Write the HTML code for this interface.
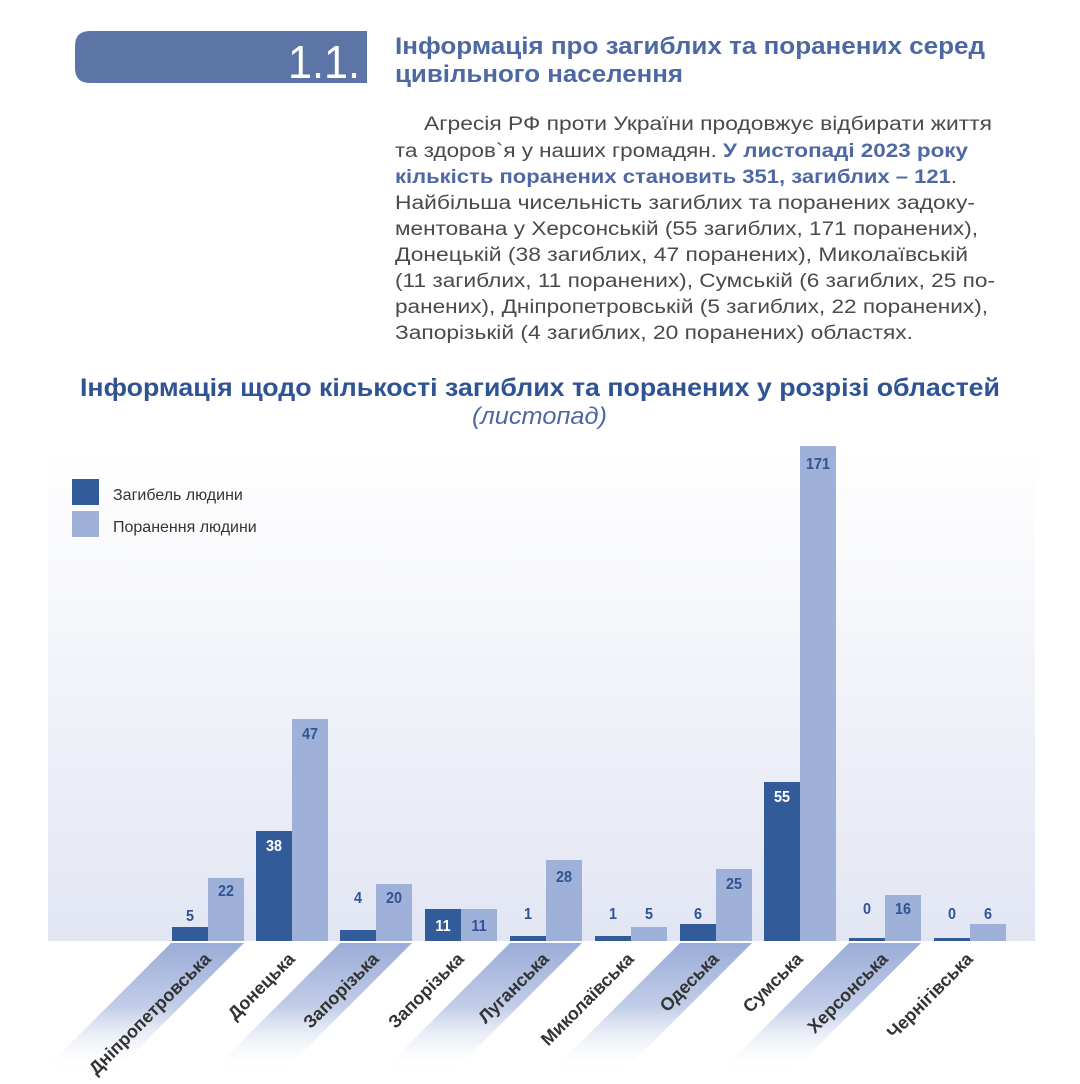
<!DOCTYPE html>
<html><head><meta charset="utf-8"><style>
html,body{margin:0;padding:0;background:#fff;}
svg{display:block;}
text{font-family:"Liberation Sans","DejaVu Sans",sans-serif;}
</style></head><body>
<svg width="1080" height="1084" viewBox="0 0 1080 1084" xmlns="http://www.w3.org/2000/svg">
<defs>
<linearGradient id="bg" x1="0" y1="0" x2="0" y2="1">
<stop offset="0" stop-color="#ffffff"/>
<stop offset="1" stop-color="#e2e6f3"/>
</linearGradient>
<linearGradient id="st" x1="0" y1="0" x2="0" y2="1">
<stop offset="0" stop-color="#9aacd7"/>
<stop offset="0.5" stop-color="#c3cee8"/>
<stop offset="1" stop-color="#ffffff" stop-opacity="0"/>
</linearGradient>
</defs>
<path d="M90 31 H367 V83 H90 Q75 83 75 68 V46 Q75 31 90 31 Z" fill="#5d74a6"/>
<text x="360" y="78" text-anchor="end" font-size="46" fill="#fff" textLength="72" lengthAdjust="spacingAndGlyphs">1.1.</text>
<text x="395" y="54" font-size="24" font-weight="bold" fill="#4e68a3" textLength="590" lengthAdjust="spacingAndGlyphs">Інформація про загиблих та поранених серед</text>
<text x="395" y="82" font-size="24" font-weight="bold" fill="#4e68a3" textLength="288" lengthAdjust="spacingAndGlyphs">цивільного населення</text>
<g font-size="19" fill="#4a4a4a">
<text x="424" y="130" textLength="568" lengthAdjust="spacingAndGlyphs">Агресія РФ проти України продовжує відбирати життя</text>
<text x="395" y="157" textLength="573" lengthAdjust="spacingAndGlyphs">та здоров`я у наших громадян. <tspan font-weight="bold" fill="#4e68a3">У листопаді 2023 року</tspan></text>
<text x="395" y="183" textLength="562" lengthAdjust="spacingAndGlyphs"><tspan font-weight="bold" fill="#4e68a3">кількість поранених становить 351, загиблих – 121</tspan>.</text>
<text x="395" y="209" textLength="580" lengthAdjust="spacingAndGlyphs">Найбільша чисельність загиблих та поранених задоку-</text>
<text x="395" y="235" textLength="583" lengthAdjust="spacingAndGlyphs">ментована у Херсонській (55 загиблих, 171 поранених),</text>
<text x="395" y="261" textLength="573" lengthAdjust="spacingAndGlyphs">Донецькій (38 загиблих, 47 поранених), Миколаївській</text>
<text x="395" y="287" textLength="600" lengthAdjust="spacingAndGlyphs">(11 загиблих, 11 поранених), Сумській (6 загиблих, 25 по-</text>
<text x="395" y="313" textLength="593" lengthAdjust="spacingAndGlyphs">ранених), Дніпропетровській (5 загиблих, 22 поранених),</text>
<text x="395" y="339" textLength="518" lengthAdjust="spacingAndGlyphs">Запорізькій (4 загиблих, 20 поранених) областях.</text>
</g>
<text x="80" y="396" font-size="25" font-weight="bold" fill="#2f5393" textLength="920" lengthAdjust="spacingAndGlyphs">Інформація щодо кількості загиблих та поранених у розрізі областей</text>
<text x="472" y="424" font-size="24" font-style="italic" fill="#4e68a3" textLength="135" lengthAdjust="spacingAndGlyphs">(листопад)</text>
<rect x="48" y="450" width="987" height="491" fill="url(#bg)"/>
<rect x="72" y="479" width="27" height="26" fill="#325c99"/>
<rect x="72" y="511" width="27" height="26" fill="#a0b1d9"/>
<text x="113" y="500" font-size="16" fill="#333">Загибель людини</text>
<text x="113" y="532" font-size="16" fill="#333">Поранення людини</text>
<g fill="url(#st)">
<polygon points="171,943 244,943 114,1073 41,1073"/>
<polygon points="340,943 412,943 282,1073 210,1073"/>
<polygon points="510,943 582,943 452,1073 380,1073"/>
<polygon points="680,943 752,943 622,1073 550,1073"/>
<polygon points="849,943 921,943 791,1073 719,1073"/>
</g>
<g fill="#325c99">
<rect x="172" y="927" width="36" height="14"/>
<rect x="256" y="831" width="36" height="110"/>
<rect x="340" y="930" width="36" height="11"/>
<rect x="425" y="909" width="36" height="32"/>
<rect x="510" y="936" width="36" height="5"/>
<rect x="595" y="936" width="36" height="5"/>
<rect x="680" y="924" width="36" height="17"/>
<rect x="764" y="782" width="36" height="159"/>
<rect x="849" y="938" width="36" height="3"/>
<rect x="934" y="938" width="36" height="3"/>
</g>
<g fill="#a0b1d9">
<rect x="208" y="878" width="36" height="63"/>
<rect x="292" y="719" width="36" height="222"/>
<rect x="376" y="884" width="36" height="57"/>
<rect x="461" y="909" width="36" height="32"/>
<rect x="546" y="860" width="36" height="81"/>
<rect x="631" y="927" width="36" height="14"/>
<rect x="716" y="869" width="36" height="72"/>
<rect x="800" y="446" width="36" height="495"/>
<rect x="885" y="895" width="36" height="46"/>
<rect x="970" y="924" width="36" height="17"/>
</g>
<g font-size="16" font-weight="bold" text-anchor="middle" fill="#2f5393">
<text x="190" y="921" transform="translate(19,0) scale(0.9,1)">5</text>
<text x="274" y="851" transform="translate(27.4,0) scale(0.9,1)" fill="#fff">38</text>
<text x="358" y="903" transform="translate(35.8,0) scale(0.9,1)">4</text>
<text x="443" y="931" transform="translate(44.3,0) scale(0.9,1)" fill="#fff">11</text>
<text x="528" y="919" transform="translate(52.8,0) scale(0.9,1)">1</text>
<text x="613" y="919" transform="translate(61.3,0) scale(0.9,1)">1</text>
<text x="698" y="919" transform="translate(69.8,0) scale(0.9,1)">6</text>
<text x="782" y="802" transform="translate(78.2,0) scale(0.9,1)" fill="#fff">55</text>
<text x="867" y="914" transform="translate(86.7,0) scale(0.9,1)">0</text>
<text x="952" y="919" transform="translate(95.2,0) scale(0.9,1)">0</text>
<text x="226" y="896" transform="translate(22.6,0) scale(0.9,1)">22</text>
<text x="310" y="739" transform="translate(31,0) scale(0.9,1)">47</text>
<text x="394" y="903" transform="translate(39.4,0) scale(0.9,1)">20</text>
<text x="479" y="931" transform="translate(47.9,0) scale(0.9,1)">11</text>
<text x="564" y="882" transform="translate(56.4,0) scale(0.9,1)">28</text>
<text x="649" y="919" transform="translate(64.9,0) scale(0.9,1)">5</text>
<text x="734" y="889" transform="translate(73.4,0) scale(0.9,1)">25</text>
<text x="818" y="469" transform="translate(81.8,0) scale(0.9,1)">171</text>
<text x="903" y="914" transform="translate(90.3,0) scale(0.9,1)">16</text>
<text x="988" y="919" transform="translate(98.8,0) scale(0.9,1)">6</text>
</g>
<g font-size="18" fill="#333" text-anchor="end" font-weight="bold">
<text transform="translate(212,960) rotate(-45)">Дніпропетровська</text>
<text transform="translate(296,960) rotate(-45)">Донецька</text>
<text transform="translate(380,960) rotate(-45)">Запорізька</text>
<text transform="translate(465,960) rotate(-45)">Запорізька</text>
<text transform="translate(550,960) rotate(-45)">Луганська</text>
<text transform="translate(635,960) rotate(-45)">Миколаївська</text>
<text transform="translate(720,960) rotate(-45)">Одеська</text>
<text transform="translate(804,960) rotate(-45)">Сумська</text>
<text transform="translate(889,960) rotate(-45)">Херсонська</text>
<text transform="translate(974,960) rotate(-45)">Чернігівська</text>
</g>
</svg>
</body></html>
